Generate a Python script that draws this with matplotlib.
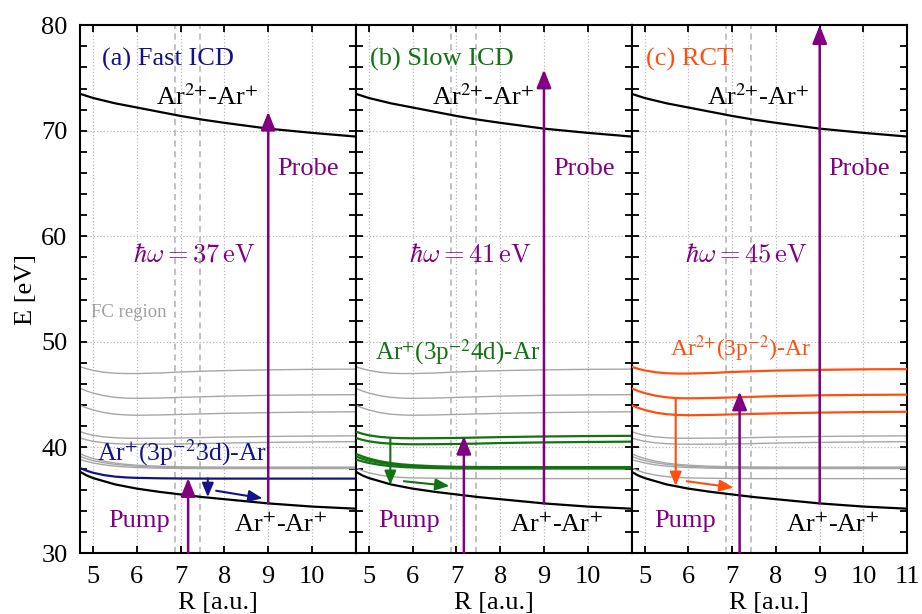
import numpy as np
import matplotlib.pyplot as plt
from matplotlib.ticker import MultipleLocator

plt.rcParams['font.family'] = ['Liberation Serif', 'DejaVu Serif']
plt.rcParams['mathtext.fontset'] = 'stix'
plt.rcParams['font.size'] = 19

# internuclear distance [a.u.]
R = [4.7, 4.85, 5.0, 5.25, 5.5, 5.75, 6.0, 6.5, 7.0, 7.5, 8.0, 9.0, 10.0, 11.0]

# Ar2+ - Ar+ and Ar+ - Ar+ curves [eV]
E_dication = [73.5, 73.3, 73.1, 72.85, 72.6, 72.4, 72.2, 71.8, 71.4, 71.05, 70.75, 70.2, 69.8, 69.45]
E_coulomb = [37.7, 37.35, 37.1, 36.8, 36.5, 36.3, 36.1, 35.8, 35.55, 35.3, 35.1, 34.7, 34.4, 34.2]

# excited states in the FC region (top to bottom)
fc1 = [47.65, 47.45, 47.3, 47.12, 47.03, 47.0, 47.0, 47.05, 47.15, 47.22, 47.28, 47.35, 47.4, 47.42]
fc2 = [45.6, 45.35, 45.15, 44.9, 44.75, 44.67, 44.65, 44.68, 44.74, 44.8, 44.86, 44.94, 44.98, 45.0]
fc3 = [44.0, 43.75, 43.55, 43.3, 43.15, 43.08, 43.05, 43.08, 43.13, 43.18, 43.23, 43.3, 43.35, 43.38]
fc4 = [41.5, 41.3, 41.15, 41.0, 40.92, 40.88, 40.87, 40.88, 40.9, 40.94, 40.98, 41.04, 41.08, 41.1]
fc5 = [40.9, 40.72, 40.58, 40.44, 40.36, 40.32, 40.3, 40.31, 40.33, 40.37, 40.42, 40.48, 40.52, 40.55]
fc6 = [39.4, 39.15, 38.95, 38.7, 38.52, 38.4, 38.32, 38.22, 38.17, 38.15, 38.14, 38.14, 38.14, 38.14]
fc7 = [39.15, 38.93, 38.75, 38.55, 38.4, 38.3, 38.22, 38.13, 38.09, 38.08, 38.07, 38.07, 38.07, 38.07]
fc8 = [38.85, 38.68, 38.53, 38.35, 38.23, 38.15, 38.1, 38.04, 38.01, 38.0, 38.0, 38.0, 38.0, 38.0]
fc9 = [38.05, 37.8, 37.6, 37.38, 37.24, 37.16, 37.12, 37.08, 37.06, 37.05, 37.05, 37.05, 37.05, 37.05]
fc_states = [fc1, fc2, fc3, fc4, fc5, fc6, fc7, fc8, fc9]

titles = ['(a) Fast ICD', '(b) Slow ICD', '(c) RCT']
state_labels = [r'Ar$^{+}$(3p$^{-2}$3d)-Ar', r'Ar$^{+}$(3p$^{-2}$4d)-Ar', r'Ar$^{2{+}}$(3p$^{-2}$)-Ar']
highlight = [[8], [3, 4, 5, 6, 7], [0, 1, 2]]
photon_eV = [37, 41, 45]
pump_top = [37.1, 41.1, 45.3]
probe_top = [71.8, 75.8, 80.0]
decay_x = [7.62, 5.49, 5.71]
decay_from = [37.07, 40.88, 44.67]
decay_to = [35.3, 36.45, 36.35]
slide_from = [(7.81, 35.9), (5.8, 36.8), (5.96, 36.8)]
slide_to = [(8.87, 35.18), (6.84, 36.35), (7.03, 36.2)]
fc_edges = [6.87, 7.44]

navy = '#12128a'
green = '#137313'
orange = '#ff4f0f'
purple = '#800080'
gray = '#a6a6a6'
colors = [navy, green, orange]

title_x = [5.2, 5.03, 5.03]
pump_x = [5.34, 5.21, 5.22]
label_pos = [(5.08, 38.8), (5.14, 48.35), (5.57, 48.6)]
label_size = [18.5, 18, 17]

fig, axes = plt.subplots(1, 3, sharey=True, figsize=(9.22, 6.14), dpi=100)
fig.subplots_adjust(left=0.0868, right=0.984, top=0.959, bottom=0.0993, wspace=0)

big_head = '-|>,head_length=0.55,head_width=0.22'
small_head = '-|>,head_length=0.6,head_width=0.25'

for i, ax in enumerate(axes):
    c = colors[i]
    ax.set_xlim(4.7, 11)
    ax.set_ylim(30, 80)
    ax.grid(True, which='major', ls=':', color='#b8b8b8', lw=0.9)
    ax.set_axisbelow(True)

    for xe in fc_edges:
        ax.axvline(xe, color='#b0b0b0', ls=(0, (4, 3)), lw=1.1, zorder=1)

    for k, st in enumerate(fc_states):
        if k in highlight[i]:
            ax.plot(R, st, color=c, lw=1.6, zorder=3)
        else:
            ax.plot(R, st, color=gray, lw=1.0, zorder=2)

    ax.plot(R, E_dication, color='black', lw=1.6, zorder=4)
    ax.plot(R, E_coulomb, color='black', lw=1.6, zorder=4)

    # pump and probe
    ax.annotate('', xy=(7.17, pump_top[i]), xytext=(7.17, 30),
                arrowprops=dict(arrowstyle=big_head, color=purple, lw=1.8,
                                mutation_scale=20, shrinkA=0, shrinkB=0),
                annotation_clip=False, zorder=5)
    ax.annotate('', xy=(9.0, probe_top[i]), xytext=(9.0, 34.7),
                arrowprops=dict(arrowstyle=big_head, color=purple, lw=1.8,
                                mutation_scale=20, shrinkA=0, shrinkB=0),
                annotation_clip=False, zorder=5)

    # decay arrows
    ax.annotate('', xy=(decay_x[i], decay_to[i]), xytext=(decay_x[i], decay_from[i]),
                arrowprops=dict(arrowstyle=small_head, color=c, lw=1.5,
                                mutation_scale=14, shrinkA=0, shrinkB=0), zorder=5)
    ax.annotate('', xy=slide_to[i], xytext=slide_from[i],
                arrowprops=dict(arrowstyle=small_head, color=c, lw=1.5,
                                mutation_scale=14, shrinkA=0, shrinkB=0), zorder=5)

    # texts
    ax.text(title_x[i], 76.2, titles[i], color=c, va='baseline')
    ax.text(7.6, 72.45, r'Ar$^{2{+}}$-Ar$^{+}$', ha='center', va='baseline')
    ax.text(9.2, 65.8, 'Probe', color=purple, va='baseline')
    ax.text(8.72, 57.6, r'$\hbar\omega = %d\,\mathrm{eV}$' % photon_eV[i], color=purple,
            ha='right', va='baseline', math_fontfamily='cm')
    ax.text(pump_x[i], 32.5, 'Pump', color=purple, va='baseline')
    ax.text(8.22, 32.0, r'Ar$^{+}$-Ar$^{+}$', va='baseline')
    ax.text(label_pos[i][0], label_pos[i][1], state_labels[i], color=c,
            fontsize=label_size[i], va='baseline')

    # axes styling
    if i < 2:
        ax.set_xticks([5, 6, 7, 8, 9, 10])
    else:
        ax.set_xticks([5, 6, 7, 8, 9, 10, 11])
    ax.yaxis.set_major_locator(MultipleLocator(10))
    ax.yaxis.set_minor_locator(MultipleLocator(2))
    ax.tick_params(which='both', direction='in', top=True, right=True,
                   length=5, width=1.3, labelsize=19, pad=9)
    for sp in ax.spines.values():
        sp.set_linewidth(1.5)
    ax.set_xlabel('R [a.u.]', labelpad=3)

axes[0].text(4.94, 52.4, 'FC region', color='#a0a0a0', fontsize=13.5, va='baseline')
axes[0].set_ylabel('E [eV]', labelpad=3)

plt.savefig('out.png', dpi=100)
